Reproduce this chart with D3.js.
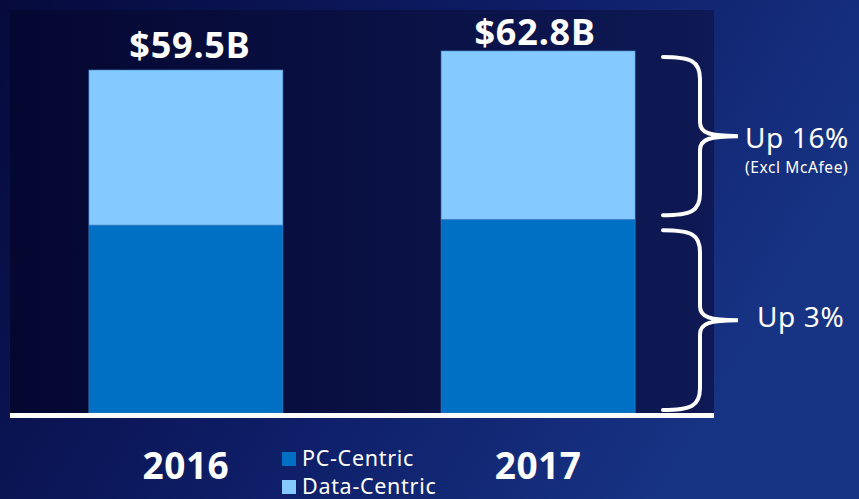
<!DOCTYPE html>
<html><head><meta charset="utf-8">
<script src="https://cdn.jsdelivr.net/npm/d3@7"></script>
<style>html,body{margin:0;padding:0;background:#0a0f45;overflow:hidden}</style>
</head><body>
<script>
const years = ["2016", "2017"];
const pcCentric = [32.6, 33.6];
const dataCentric = [26.9, 29.2];
const totalLabels = ["$59.5B", "$62.8B"];
const seriesNames = ["PC-Centric", "Data-Centric"];
const growthLabels = ["Up 16%", "Up 3%"];
const growthNote = "(Excl McAfee)";

const W = 859, H = 499;
const svg = d3.select("body").append("svg").attr("width", W).attr("height", H);
const defs = svg.append("defs");
const bg = defs.append("linearGradient").attr("id","bg").attr("x1","0").attr("y1","0").attr("x2","1").attr("y2","0.35");
bg.append("stop").attr("offset","0").attr("stop-color","#060a3c");
bg.append("stop").attr("offset","0.55").attr("stop-color","#0e1d66");
bg.append("stop").attr("offset","1").attr("stop-color","#173384");
svg.append("rect").attr("width",W).attr("height",H).attr("fill","url(#bg)");
const pg = defs.append("linearGradient").attr("id","pg").attr("x1","0").attr("y1","0").attr("x2","1").attr("y2","0");
pg.append("stop").attr("offset","0").attr("stop-color","#040730");
pg.append("stop").attr("offset","1").attr("stop-color","#0e1955");
svg.append("rect").attr("x",10).attr("y",10).attr("width",704).attr("height",404).attr("fill","url(#pg)");

const x = d3.scaleBand().domain(years).range([10,714]).paddingInner(0.449).paddingOuter(0.224);
const y = d3.scaleLinear().domain([0,70]).range([413, 9.45]);

const rows = years.map((yr,i)=>({year:yr, pc:pcCentric[i], dc:dataCentric[i]}));
const stack = d3.stack().keys(["pc","dc"])(rows);
const colors = {pc:"#0070c5", dc:"#84c9ff"};

svg.append("g").selectAll("g").data(stack).join("g")
  .attr("fill", d=>colors[d.key])
  .selectAll("rect").data(d=>d).join("rect")
  .attr("x", d=>x(d.data.year)).attr("width", x.bandwidth())
  .attr("y", d=>y(d[1])).attr("height", d=>y(d[0])-y(d[1]))
  .attr("stroke","#3f7fc4").attr("stroke-width",0.6);

// baseline
svg.append("rect").attr("x",10).attr("y",y(0)).attr("width",704).attr("height",5).attr("fill","#ffffff");

// totals
const labelGap = [12, 6];
const labelShift = [4, -3];
svg.append("g").selectAll("text").data(rows).join("text")
  .attr("x", (d,i)=>x(d.year)+x.bandwidth()/2+labelShift[i])
  .attr("y", (d,i)=>y(d.pc+d.dc)-labelGap[i])
  .attr("text-anchor","middle").attr("fill","#fff")
  .attr("font-family","'Noto Sans'").attr("font-weight","bold").attr("font-size",36)
  .attr("letter-spacing",0.8)
  .text((d,i)=>totalLabels[i]);

// year labels
svg.append("g").selectAll("text").data(years).join("text")
  .attr("x", d=>x(d)+x.bandwidth()/2).attr("y",479)
  .attr("text-anchor","middle").attr("fill","#fff")
  .attr("font-family","'Noto Sans'").attr("font-weight","bold").attr("font-size",37)
  .attr("letter-spacing",0.5)
  .text(d=>d);

// legend
const leg = svg.append("g");
seriesNames.forEach((n,i)=>{
  leg.append("rect").attr("x",282).attr("y",452+i*28).attr("width",14).attr("height",14)
    .attr("fill", i===0?colors.pc:colors.dc);
  leg.append("text").attr("x",302).attr("y",466+i*28).attr("fill","#fff")
    .attr("font-family","'Noto Sans'").attr("font-size",21.5).attr("letter-spacing",0.7).text(n);
});

// braces
function brace(y1, y2){
  const x0=663, xv=700, xt=738, mid=(y1+y2)/2;
  return `M${x0},${y1} C${x0+28},${y1} ${xv},${y1+4} ${xv},${y1+22} L${xv},${mid-14} C${xv},${mid-3} ${xv+10},${mid} ${xt},${mid} C${xv+10},${mid} ${xv},${mid+3} ${xv},${mid+14} L${xv},${y2-22} C${xv},${y2-4} ${x0+28},${y2} ${x0},${y2}`;
}
const r = rows[1];
const b1 = [y(r.pc+r.dc)+6, y(r.pc)-4];
const b2 = [y(r.pc)+11, y(0)-3];
[b1,b2].forEach(b=>{
  svg.append("path").attr("d",brace(b[0],b[1])).attr("fill","none").attr("stroke","#fff")
    .attr("stroke-width",4).attr("stroke-linecap","round");
});
svg.append("text").attr("x",745).attr("y",(b1[0]+b1[1])/2+12).attr("fill","#fff")
  .attr("font-family","'Noto Sans'").attr("font-size",28).attr("letter-spacing",0.6).text(growthLabels[0]);
svg.append("text").attr("x",745).attr("y",(b1[0]+b1[1])/2+37).attr("fill","#fff")
  .attr("font-family","'Noto Sans'").attr("font-size",15.5).attr("letter-spacing",0.6).text(growthNote);
svg.append("text").attr("x",757).attr("y",(b2[0]+b2[1])/2+7).attr("fill","#fff")
  .attr("font-family","'Noto Sans'").attr("font-size",28).attr("letter-spacing",0.6).text(growthLabels[1]);
</script>
</body></html>
